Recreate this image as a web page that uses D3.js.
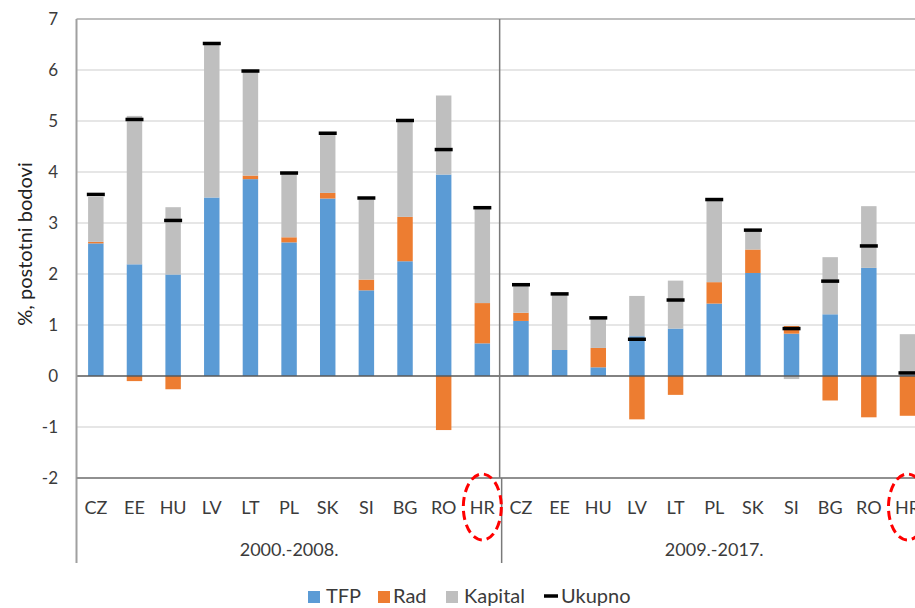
<!DOCTYPE html>
<html>
<head>
<meta charset="utf-8">
<script src="https://cdn.jsdelivr.net/npm/d3@7"></script>
<style>
  body { margin: 0; background: #fff; }
  svg { display: block; font-family: Lato, "Open Sans", sans-serif; }
</style>
</head>
<body>
<svg id="chart"></svg>
<script>
const width = 915;
const height = 608;

// --- Data ---
const periods = ["2000.-2008.", "2009.-2017."];
const countries = ["CZ", "EE", "HU", "LV", "LT", "PL", "SK", "SI", "BG", "RO", "HR"];
// values follow periods x countries order
const tfp     = [2.60, 2.19, 1.99, 3.50, 3.86, 2.62, 3.48, 1.68, 2.25, 3.95, 0.64,
                 1.08, 0.51, 0.17, 0.78, 0.93, 1.42, 2.02, 0.83, 1.21, 2.12, 0.02];
const rad     = [0.03, -0.10, -0.26, 0.00, 0.07, 0.10, 0.11, 0.21, 0.87, -1.06, 0.79,
                 0.16, 0.00, 0.38, -0.85, -0.37, 0.42, 0.46, 0.15, -0.48, -0.81, -0.78];
const kapital = [0.88, 2.91, 1.32, 3.01, 2.03, 1.24, 1.15, 1.57, 1.86, 1.55, 1.86,
                 0.54, 1.09, 0.58, 0.79, 0.94, 1.60, 0.36, -0.06, 1.12, 1.21, 0.80];
const ukupno  = [3.56, 5.03, 3.05, 6.52, 5.98, 3.98, 4.76, 3.49, 5.01, 4.44, 3.30,
                 1.79, 1.61, 1.14, 0.72, 1.49, 3.46, 2.86, 0.93, 1.86, 2.55, 0.06];
const yTicks = [-2, -1, 0, 1, 2, 3, 4, 5, 6, 7];
const seriesNames = ["TFP", "Rad", "Kapital", "Ukupno"];
const highlighted = "HR";

const colors = { tfp: "#5b9bd5", rad: "#ed7d31", kapital: "#bfbfbf" };
const textColor = "#3b3b3b";

// rows for the stack
const rows = [];
periods.forEach((p, pi) => {
  countries.forEach((c, ci) => {
    const i = pi * countries.length + ci;
    rows.push({ key: p + "|" + c, period: p, country: c,
      tfp: tfp[i], rad: rad[i], kapital: kapital[i], ukupno: ukupno[i] });
  });
});

const svg = d3.select("#chart")
  .attr("width", width)
  .attr("height", height);

// --- Scales ---
const plotLeft = 76.5, plotRight = 926.8;
const x = d3.scaleBand()
  .domain(rows.map(d => d.key))
  .range([plotLeft, plotRight])
  .paddingInner(0.6)
  .paddingOuter(0.3);

const y = d3.scaleLinear()
  .domain([-2, 7])
  .range([478, 19]);

// --- Gridlines ---
svg.append("g")
  .selectAll("line")
  .data(yTicks.filter(t => t > -2 && t < 7 && t !== 0))
  .join("line")
  .attr("x1", plotLeft).attr("x2", plotRight)
  .attr("y1", d => y(d)).attr("y2", d => y(d))
  .attr("stroke", "#dedede")
  .attr("stroke-width", 1.5);

// top line
svg.append("line")
  .attr("x1", plotLeft).attr("x2", plotRight)
  .attr("y1", y(7)).attr("y2", y(7))
  .attr("stroke", "#a8a8a8")
  .attr("stroke-width", 1.5);

// --- Stacked bars ---
const stack = d3.stack()
  .keys(["tfp", "rad", "kapital"])
  .offset(d3.stackOffsetDiverging);
const stacked = stack(rows);

svg.append("g")
  .selectAll("g")
  .data(stacked)
  .join("g")
  .attr("fill", s => colors[s.key])
  .selectAll("rect")
  .data(s => s)
  .join("rect")
  .attr("x", d => x(d.data.key))
  .attr("width", x.bandwidth())
  .attr("y", d => y(Math.max(d[0], d[1])))
  .attr("height", d => Math.abs(y(d[0]) - y(d[1])));

// zero line
svg.append("line")
  .attr("x1", plotLeft).attr("x2", plotRight)
  .attr("y1", y(0)).attr("y2", y(0))
  .attr("stroke", "#595959")
  .attr("stroke-width", 1.5);

// --- Ukupno markers ---
const dashW = 18;
svg.append("g")
  .selectAll("line")
  .data(rows)
  .join("line")
  .attr("x1", d => x(d.key) + x.bandwidth() / 2 - dashW / 2)
  .attr("x2", d => x(d.key) + x.bandwidth() / 2 + dashW / 2)
  .attr("y1", d => y(d.ukupno))
  .attr("y2", d => y(d.ukupno))
  .attr("stroke", "#000")
  .attr("stroke-width", 3.5);

// --- Axes lines ---
const axisColor = "#a0a0a0";
svg.append("line")
  .attr("x1", plotLeft).attr("x2", plotLeft)
  .attr("y1", y(7)).attr("y2", 563)
  .attr("stroke", axisColor).attr("stroke-width", 2);

svg.append("line")
  .attr("x1", plotLeft).attr("x2", plotRight)
  .attr("y1", y(-2)).attr("y2", y(-2))
  .attr("stroke", "#909090").attr("stroke-width", 2);

// period divider
const step = x.step();
const dividerX = plotLeft + countries.length * step;
svg.append("line")
  .attr("x1", dividerX - 2).attr("x2", dividerX - 2)
  .attr("y1", y(7)).attr("y2", y(-2))
  .attr("stroke", "#7a7a7a").attr("stroke-width", 1.5);
svg.append("line")
  .attr("x1", dividerX).attr("x2", dividerX)
  .attr("y1", y(-2)).attr("y2", 563)
  .attr("stroke", "#7a7a7a").attr("stroke-width", 1.5);

// --- Y tick labels ---
svg.append("g")
  .selectAll("text")
  .data(yTicks)
  .join("text")
  .attr("x", 58)
  .attr("y", d => y(d))
  .attr("dy", "0.35em")
  .attr("text-anchor", "end")
  .attr("font-size", 17)
  .attr("fill", textColor)
  .text(d => d);

// Y axis title
svg.append("text")
  .attr("transform", "translate(24,244) rotate(-90)")
  .attr("text-anchor", "middle")
  .attr("dominant-baseline", "central")
  .attr("font-size", 20)
  .attr("fill", "#222")
  .text("%, postotni bodovi");

// --- Category labels ---
svg.append("g")
  .selectAll("text")
  .data(rows)
  .join("text")
  .attr("x", d => x(d.key) + x.bandwidth() / 2)
  .attr("y", 514)
  .attr("text-anchor", "middle")
  .attr("font-size", 18)
  .attr("fill", textColor)
  .text(d => d.country);

svg.append("g")
  .selectAll("text")
  .data(periods)
  .join("text")
  .attr("x", (d, i) => plotLeft + (i + 0.5) * countries.length * step)
  .attr("y", 556)
  .attr("text-anchor", "middle")
  .attr("font-size", 18)
  .attr("fill", textColor)
  .text(d => d);

// --- Red dashed ellipses around HR ---
svg.append("g")
  .selectAll("ellipse")
  .data(rows.filter(d => d.country === highlighted))
  .join("ellipse")
  .attr("cx", d => x(d.key) + x.bandwidth() / 2)
  .attr("cy", 507)
  .attr("rx", 19)
  .attr("ry", 33)
  .attr("fill", "none")
  .attr("stroke", "#ff0000")
  .attr("stroke-width", 3)
  .attr("stroke-dasharray", "9,5");

// --- Legend ---
const legendItems = [
  { name: seriesNames[0], color: colors.tfp, x: 308, tx: 326 },
  { name: seriesNames[1], color: colors.rad, x: 378, tx: 393 },
  { name: seriesNames[2], color: colors.kapital, x: 446, tx: 464 },
  { name: seriesNames[3], color: "#000", x: 544, tx: 561, line: true }
];
const gLegend = svg.append("g");
legendItems.forEach(it => {
  if (it.line) {
    gLegend.append("line")
      .attr("x1", it.x).attr("x2", it.x + 14)
      .attr("y1", 596).attr("y2", 596)
      .attr("stroke", it.color).attr("stroke-width", 3.5);
  } else {
    gLegend.append("rect")
      .attr("x", it.x).attr("y", 591)
      .attr("width", 12).attr("height", 12)
      .attr("fill", it.color);
  }
  gLegend.append("text")
    .attr("x", it.tx)
    .attr("y", 603)
    .attr("font-size", 20)
    .attr("fill", textColor)
    .text(it.name);
});
</script>
</body>
</html>
